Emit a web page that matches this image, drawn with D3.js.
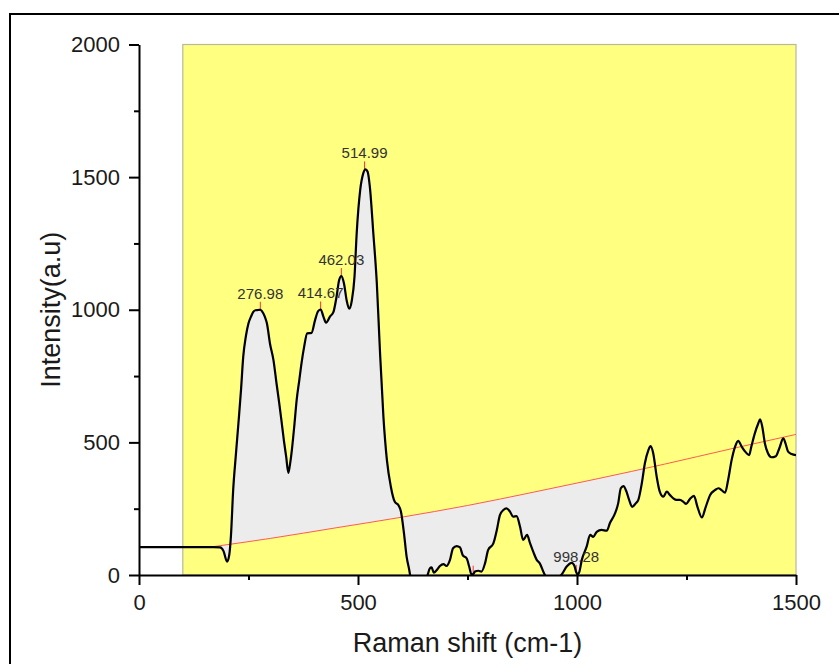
<!DOCTYPE html>
<html>
<head>
<meta charset="utf-8">
<script src="https://cdn.jsdelivr.net/npm/d3@7"></script>
<style>
  body { margin: 0; background: #fff; }
  svg text { font-family: "Liberation Sans", Arial, sans-serif; }
</style>
</head>
<body>
<div id="chart"></div>
<script>
// Raman spectrum (x = cm-1, y = intensity)
const shiftX = [0, 60, 120, 170, 185, 193, 201, 206, 210, 215, 221, 227, 233, 238, 244, 250, 256, 261, 266, 272, 277, 281, 287, 292, 299, 307, 314, 320, 326, 331, 336, 341, 345, 349, 355, 360, 366, 371, 377, 384, 394, 402, 409, 415, 421, 427, 436, 444, 451, 457, 462, 468, 474, 480, 486, 492, 497, 505, 512, 517, 522, 527, 535, 543, 550, 558, 566, 575, 584, 592, 598, 605, 611, 617, 625, 640, 655, 660, 664, 668, 673, 680, 687, 695, 702, 710, 717, 725, 733, 739, 748, 754, 759, 764, 767, 775, 782, 790, 797, 809, 817, 824, 832, 839, 847, 854, 862, 870, 877, 886, 893, 900, 908, 915, 925, 935, 950, 960, 965, 976, 988, 994, 998, 1001, 1005, 1011, 1022, 1030, 1037, 1045, 1056, 1068, 1075, 1087, 1094, 1100, 1106, 1113, 1119, 1126, 1134, 1140, 1148, 1155, 1163, 1168, 1174, 1182, 1189, 1197, 1205, 1212, 1220, 1227, 1235, 1243, 1249, 1258, 1267, 1275, 1285, 1294, 1304, 1315, 1323, 1330, 1338, 1345, 1353, 1361, 1368, 1376, 1384, 1393, 1398, 1406, 1414, 1418, 1423, 1429, 1436, 1444, 1454, 1462, 1471, 1476, 1482, 1490, 1500];
const intensity = [105, 105, 105, 105, 104, 90, 50, 75, 150, 320, 450, 572, 700, 823, 900, 949, 975, 992, 998, 999, 1000, 994, 975, 949, 873, 810, 722, 650, 572, 505, 446, 385, 420, 471, 570, 660, 735, 798, 860, 911, 913, 961, 995, 1001, 974, 951, 974, 992, 1049, 1112, 1127, 1099, 1036, 1004, 1036, 1124, 1288, 1451, 1514, 1529, 1520, 1464, 1288, 1099, 848, 597, 433, 333, 276, 264, 239, 157, 69, 19, -60, -110, -30, 6, 25, 29, 9, 19, 34, 41, 34, 57, 101, 109, 104, 75, 63, 31, 2, 5, 13, 16, 13, 44, 94, 119, 170, 226, 245, 251, 239, 220, 222, 182, 132, 151, 119, 88, 57, 44, 6, -20, -25, -5, 2, 31, 46, 35, 12, 2, 10, 57, 107, 151, 144, 163, 170, 167, 195, 233, 270, 327, 335, 314, 283, 257, 270, 283, 346, 421, 471, 486, 459, 370, 314, 295, 314, 302, 289, 283, 283, 276, 268, 287, 298, 257, 217, 257, 302, 320, 327, 320, 310, 358, 433, 484, 506, 484, 465, 452, 484, 534, 572, 587, 559, 496, 459, 444, 448, 478, 515, 496, 465, 456, 452];

// baseline (red) anchors
const baseX = [170, 300, 450, 600, 750, 900, 1050, 1200, 1350, 1500];
const baseY = [107, 138, 178, 218, 262, 312, 364, 418, 475, 530];

// integrated region
const fillFrom = 170;
const fillTo = 1155;

// peak markers
const peakX = [276.98, 414.67, 462.03, 514.99, 763, 998.28];
const peakY = [1000, 1001, 1127, 1529, 5, 8];
const peakLabel = ["276.98", "414.67", "462.03", "514.99", "", "998.28"];

const xTicks = [0, 500, 1000, 1500];
const xMinor = [250, 750, 1250];
const yTicks = [0, 500, 1000, 1500, 2000];
const yMinor = [250, 750, 1250, 1750];
const bgFrom = 100;

const W = 839, H = 664;
const svg = d3.select("#chart").append("svg")
  .attr("width", W)
  .attr("height", H);

// outer frame
svg.append("rect")
  .attr("x", 10).attr("y", 14)
  .attr("width", 900).attr("height", 700)
  .attr("fill", "none")
  .attr("stroke", "#000")
  .attr("stroke-width", 2);

const x = d3.scaleLinear().domain([0, 1500]).range([139, 796]);
const y = d3.scaleLinear().domain([0, 2000]).range([575, 44.5]);

svg.append("clipPath").attr("id", "plot")
  .append("rect")
  .attr("x", x(0)).attr("y", y(2000))
  .attr("width", x(1500) - x(0))
  .attr("height", y(0) - y(2000));

// yellow background
svg.append("rect")
  .attr("x", x(bgFrom)).attr("y", y(2000))
  .attr("width", x(1500) - x(bgFrom))
  .attr("height", y(0) - y(2000))
  .attr("fill", "#ffff80")
  .attr("stroke", "#b8b8a0")
  .attr("stroke-width", 1.2);

const spectrum = shiftX.map((d, i) => ({ x: d, y: intensity[i] }));
const baseAt = v => {
  const i = Math.max(1, Math.min(baseX.length - 1, d3.bisectLeft(baseX, v)));
  const t = (v - baseX[i - 1]) / (baseX[i] - baseX[i - 1]);
  return baseY[i - 1] + t * (baseY[i] - baseY[i - 1]);
};

const g = svg.append("g").attr("clip-path", "url(#plot)");

// gray area between spectrum and baseline
const fillData = spectrum.filter(d => d.x >= fillFrom && d.x <= fillTo);
g.append("path")
  .datum(fillData)
  .attr("fill", "#ececec")
  .attr("d", d3.area()
    .x(d => x(d.x))
    .y0(d => y(baseAt(d.x)))
    .y1(d => y(d.y))
    .curve(d3.curveMonotoneX));

// baseline
g.append("path")
  .datum(baseX.map((d, i) => ({ x: d, y: baseY[i] })))
  .attr("fill", "none")
  .attr("stroke", "#ff5a50")
  .attr("stroke-width", 1)
  .attr("d", d3.line().x(d => x(d.x)).y(d => y(d.y)).curve(d3.curveMonotoneX));

// peak labels + red ticks (drawn under the curve)
peakX.forEach((px, i) => {
  g.append("line")
    .attr("x1", x(px)).attr("x2", x(px))
    .attr("y1", y(peakY[i]) - 8).attr("y2", y(peakY[i]))
    .attr("stroke", "#ff3030")
    .attr("stroke-width", 1);
  if (peakLabel[i]) {
    svg.append("text")
      .attr("x", x(px))
      .attr("y", y(peakY[i]) - 11)
      .attr("text-anchor", "middle")
      .style("font-size", "15px")
      .attr("fill", "#333")
      .text(peakLabel[i]);
  }
});

// spectrum line
g.append("path")
  .datum(spectrum)
  .attr("fill", "none")
  .attr("stroke", "#000")
  .attr("stroke-width", 2.2)
  .attr("stroke-linejoin", "round")
  .attr("d", d3.line().x(d => x(d.x)).y(d => y(d.y)).curve(d3.curveMonotoneX));

// axes
const fmt = d3.format("d");
svg.append("g")
  .attr("transform", `translate(0,${y(0)})`)
  .call(d3.axisBottom(x).tickValues(xTicks).tickFormat(fmt).tickSize(10).tickSizeOuter(0).tickPadding(9));
svg.append("g")
  .attr("transform", `translate(0,${y(0)})`)
  .call(d3.axisBottom(x).tickValues(xMinor).tickSize(5).tickSizeOuter(0).tickFormat(""))
  .select(".domain").remove();

svg.append("g")
  .attr("transform", `translate(${x(0)},0)`)
  .call(d3.axisLeft(y).tickValues(yTicks).tickFormat(fmt).tickSize(10).tickSizeOuter(0).tickPadding(9));
svg.append("g")
  .attr("transform", `translate(${x(0)},0)`)
  .call(d3.axisLeft(y).tickValues(yMinor).tickSize(5).tickSizeOuter(0).tickFormat(""))
  .select(".domain").remove();

svg.selectAll(".domain, .tick line")
  .attr("stroke", "#000")
  .attr("stroke-width", 2);
svg.selectAll(".tick text")
  .style("font-size", "22px")
  .attr("fill", "#1a1a1a");

// axis titles
svg.append("text")
  .attr("x", (x(0) + x(1500)) / 2)
  .attr("y", 652)
  .attr("text-anchor", "middle")
  .style("font-size", "27px")
  .attr("fill", "#1a1a1a")
  .text("Raman shift (cm-1)");

svg.append("text")
  .attr("transform", `translate(60,${(y(0) + y(2000)) / 2}) rotate(-90)`)
  .attr("text-anchor", "middle")
  .style("font-size", "27px")
  .attr("fill", "#1a1a1a")
  .text("Intensity(a.u)");
</script>
</body>
</html>
